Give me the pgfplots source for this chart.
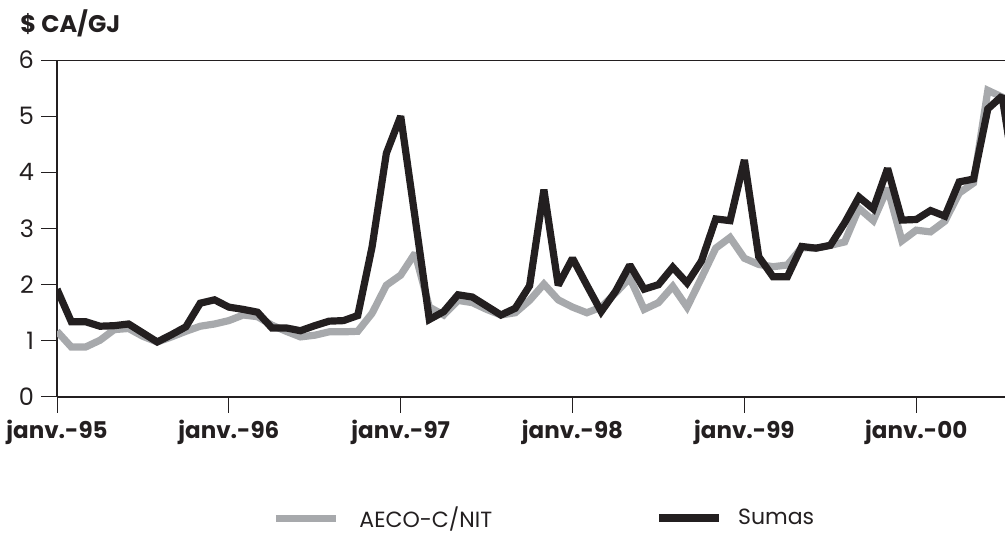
\documentclass[border=0pt]{standalone}
\usepackage{pgfplots}
\pgfplotsset{compat=1.18}
\usepackage{pgfplotstable}
\usepackage{fontspec}
\setmainfont{Poppins}
\definecolor{cblack}{HTML}{231F20}
\definecolor{cgray}{HTML}{A7A9AC}
\pgfplotstableread{
m gray black
0 1.17 1.92
1 0.89 1.34
2 0.89 1.34
3 1.01 1.26
4 1.20 1.27
5 1.22 1.30
6 1.08 1.14
7 0.98 0.98
8 1.07 1.11
9 1.17 1.25
10 1.26 1.67
11 1.30 1.73
12 1.36 1.60
13 1.46 1.56
14 1.43 1.51
15 1.28 1.23
16 1.17 1.23
17 1.07 1.18
18 1.10 1.27
19 1.16 1.35
20 1.16 1.36
21 1.17 1.45
22 1.49 2.67
23 1.99 4.34
24 2.17 5.00
25 2.56 3.20
26 1.60 1.38
27 1.46 1.52
28 1.72 1.82
29 1.68 1.78
30 1.56 1.62
31 1.46 1.46
32 1.50 1.58
33 1.72 1.98
34 2.01 3.69
35 1.73 1.99
36 1.60 2.47
37 1.50 1.99
38 1.60 1.52
39 1.85 1.88
40 2.12 2.35
41 1.56 1.92
42 1.68 2.00
43 1.97 2.31
44 1.60 2.03
45 2.12 2.42
46 2.65 3.17
47 2.84 3.14
48 2.47 4.22
49 2.36 2.50
50 2.32 2.14
51 2.35 2.14
52 2.66 2.68
53 2.65 2.65
54 2.70 2.70
55 2.76 3.10
56 3.36 3.56
57 3.14 3.35
58 3.72 4.07
59 2.78 3.15
60 2.97 3.16
61 2.94 3.32
62 3.13 3.22
63 3.63 3.83
64 3.81 3.88
65 5.46 5.13
66 5.34 5.36
67 3.80 3.70
}\datatable
\begin{document}
\begin{tikzpicture}
\path[use as bounding box] (-28.5pt,-68.5pt) rectangle (474pt,198.5pt);
\begin{axis}[
  at={(0pt,0pt)}, anchor=south west,
  scale only axis, width=474pt, height=168.5pt,
  xmin=0, xmax=66.2, ymin=0, ymax=6,
  axis lines=left,
  axis line style={-, line width=1.3pt, color=cblack},
  tick style={line width=0.5pt, color=cblack},
  tick align=outside,
  major tick length=8pt,
  xtick={0,12,24,36,48,60},
  xticklabels={janv.-95,janv.-96,janv.-97,janv.-98,janv.-99,janv.-00},
  x tick label style={font=\fontsize{11.5}{14}\selectfont\bfseries, color=cblack},
  ytick={0,1,2,3,4,5,6},
  y tick label style={font=\fontsize{12}{14}\selectfont, color=cblack},
  /pgf/number format/assume math mode=true,
  clip=true,
  legend style={at={(0.513,-0.36)}, anchor=center, draw=none, fill=none,
    font=\fontsize{11}{13}\selectfont, text=cblack,
    /tikz/column 2/.style={column sep=81.5pt},
    nodes={inner sep=0pt}},
  legend cell align=left,
  legend columns=2,
]
\draw[line width=1.3pt, color=cblack] (rel axis cs:0,1) -- (rel axis cs:1,1);
\addplot[color=cgray, line width=3.6pt, line join=miter, miter limit=2,
  legend image code/.code={\draw[cgray, line width=3.5pt] (0pt,0pt) -- (30pt,0pt);}]
  table[x=m, y=gray] {\datatable};
\addlegendentry{\hspace{10pt}AECO-C/NIT}
\addplot[color=cblack, line width=3.6pt, line join=miter, miter limit=2,
  legend image code/.code={\draw[cblack, line width=4pt] (0pt,0pt) -- (30pt,0pt);}]
  table[x=m, y=black] {\datatable};
\addlegendentry{\hspace{7.5pt}Sumas}
\end{axis}
\node[anchor=base west, font=\fontsize{12}{14}\selectfont\bfseries, text=cblack, inner sep=0pt] at (-18.5pt,182pt) {\$ CA/GJ};
\end{tikzpicture}
\end{document}
